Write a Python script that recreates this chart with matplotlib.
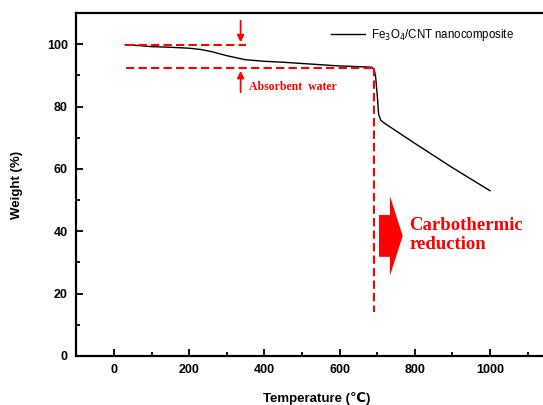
import matplotlib
matplotlib.use("Agg")
import matplotlib.pyplot as plt
from matplotlib.patches import Polygon
from matplotlib.ticker import MultipleLocator

plt.rcParams['font.family'] = ['Liberation Sans', 'DejaVu Sans']

# TGA curve
temp = [30, 60, 100, 150, 200, 230, 260, 300, 350, 400, 450, 500, 550, 600, 650, 685, 692, 696, 700, 704, 710, 720, 760, 800, 850, 900, 950, 1000]
weight = [99.8, 99.6, 99.2, 99.0, 98.7, 98.3, 97.6, 96.3, 95.0, 94.5, 94.2, 93.8, 93.4, 93.0, 92.8, 92.6, 92.0, 89.5, 84.0, 77.5, 75.5, 74.6, 71.4, 68.2, 64.3, 60.4, 56.7, 53.0]
series_label = "Fe$_3$O$_4$/CNT nanocomposite"

# annotation levels
upper_level = 99.7
lower_level = 92.3
dash_start = 31
upper_end = 352
turn_temp = 692
drop_bottom = 14.2
arrow_x = 337

red = "#ff0000"

fig = plt.figure(figsize=(5.43, 4.05), dpi=100)
ax = fig.add_axes([0.1405, 0.121, 0.8865, 0.847])

ax.plot(temp, weight, color="black", lw=1.0, label=series_label)

ax.plot([dash_start, upper_end], [upper_level, upper_level], color=red, ls=(0, (4, 2)), lw=1.5)
ax.plot([dash_start, turn_temp], [lower_level, lower_level], color=red, ls=(0, (4, 2)), lw=1.5)
ax.plot([turn_temp, turn_temp], [lower_level, drop_bottom], color=red, ls=(0, (4, 2)), lw=1.5)

ax.annotate("", xy=(arrow_x, upper_level), xytext=(arrow_x, 108.4),
            arrowprops=dict(arrowstyle="-|>", color=red, lw=1.3, mutation_scale=10))
ax.annotate("", xy=(arrow_x, lower_level), xytext=(arrow_x, 83.7),
            arrowprops=dict(arrowstyle="-|>", color=red, lw=1.3, mutation_scale=10))
ax.text(358, 86.2, "Absorbent  water", color=red, fontsize=8.5, fontweight="bold",
        family="Liberation Serif", va="center", ha="left")

# big block arrow
block = [(705, 45.2), (734, 45.2), (734, 51.3), (768, 38.5), (734, 25.7), (734, 31.8), (705, 31.8)]
ax.add_patch(Polygon(block, closed=True, color=red, lw=0))
ax.text(786, 38.8, "Carbothermic\nreduction", color=red, fontsize=13.5, fontweight="bold",
        family="Liberation Serif", va="center", ha="left", linespacing=1.15)

ax.set_xlim(-100, 1180)
ax.set_ylim(0, 110)
ax.xaxis.set_major_locator(MultipleLocator(200))
ax.xaxis.set_minor_locator(MultipleLocator(100))
ax.yaxis.set_major_locator(MultipleLocator(20))
ax.yaxis.set_minor_locator(MultipleLocator(10))
ax.tick_params(which="major", direction="in", length=5, width=1.3, labelsize=9, pad=6)
ax.tick_params(which="minor", direction="in", length=3, width=1.3)
ax.tick_params(top=False, right=False, which="both")
for lab in ax.get_xticklabels() + ax.get_yticklabels():
    lab.set_fontweight("bold")
for sp in ax.spines.values():
    sp.set_linewidth(1.6)

ax.set_xlabel("Temperature (℃)", fontsize=9.5, fontweight="bold", labelpad=11)
ax.set_ylabel("Weight (%)", fontsize=9.5, fontweight="bold", labelpad=17)

ax.legend(loc="upper left", bbox_to_anchor=(0.507, 0.99), frameon=False, fontsize=8.3,
          handlelength=3.0, handletextpad=0.5)

fig.savefig("out.png", dpi=100)
